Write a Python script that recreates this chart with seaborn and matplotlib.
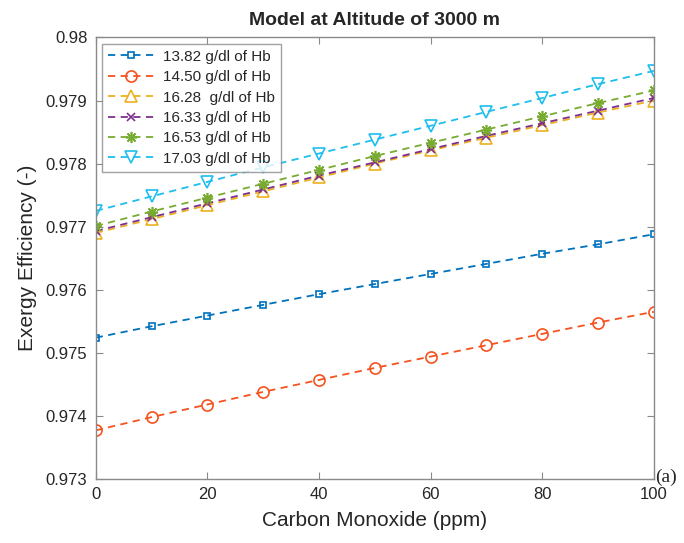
import numpy as np
import pandas as pd
import matplotlib
matplotlib.use('Agg')
import matplotlib.pyplot as plt
from matplotlib.ticker import FuncFormatter
import seaborn as sns

# Data
co_ppm = [0, 10, 20, 30, 40, 50, 60, 70, 80, 90, 100]
hb_1382 = [0.97524, 0.97542, 0.97559, 0.97576, 0.97593, 0.97609, 0.97625, 0.97641, 0.97657, 0.97672, 0.97688]
hb_1450 = [0.97377, 0.97398, 0.97418, 0.97438, 0.97457, 0.97476, 0.97494, 0.97512, 0.97530, 0.97548, 0.97565]
hb_1628 = [0.97690, 0.97712, 0.97734, 0.97756, 0.97778, 0.97800, 0.97821, 0.97841, 0.97861, 0.97881, 0.97900]
hb_1633 = [0.97693, 0.97715, 0.97737, 0.97759, 0.97781, 0.97802, 0.97823, 0.97844, 0.97864, 0.97884, 0.97904]
hb_1653 = [0.97701, 0.97724, 0.97746, 0.97768, 0.97790, 0.97812, 0.97833, 0.97854, 0.97875, 0.97896, 0.97916]
hb_1703 = [0.97725, 0.97748, 0.97771, 0.97794, 0.97816, 0.97838, 0.97860, 0.97882, 0.97904, 0.97926, 0.97947]

labels = ['13.82 g/dl of Hb', '14.50 g/dl of Hb', '16.28  g/dl of Hb',
          '16.33 g/dl of Hb', '16.53 g/dl of Hb', '17.03 g/dl of Hb']
series = [hb_1382, hb_1450, hb_1628, hb_1633, hb_1653, hb_1703]
colors = ['#0072BD', '#F5521E', '#EDB120', '#7E2F8E', '#77AC30', '#1EBEEE']
markers = ['s', 'o', '^', 'x', (8, 2, 0), 'v']
msizes = [5, 8, 8, 6, 8, 8]

sns.set_style('white')
plt.rcParams['font.family'] = ['Liberation Sans', 'DejaVu Sans']

fig = plt.figure(figsize=(6.84, 5.43), dpi=100)
ax = fig.add_axes([0.140, 0.118, 0.816, 0.813])

for vals, lab, c, m, ms in zip(series, labels, colors, markers, msizes):
    df = pd.DataFrame({'x': co_ppm, 'y': vals})
    sns.lineplot(data=df, x='x', y='y', ax=ax, label=lab, color=c,
                 marker=m, markersize=ms, markerfacecolor='none',
                 markeredgecolor=c, markeredgewidth=1.2,
                 linewidth=1.3, dashes=(4, 3))

ax.set_xlim(0, 100)
ax.set_ylim(0.973, 0.98)
ax.set_xticks([0, 20, 40, 60, 80, 100])
ax.set_yticks(np.arange(0.973, 0.98001, 0.001))
ax.yaxis.set_major_formatter(FuncFormatter(lambda v, p: f'{v:.3f}'.rstrip('0')))

for s in ax.spines.values():
    s.set_color('#8a8a8a')
    s.set_linewidth(1.0)
ax.tick_params(direction='in', length=5, width=0.8, color='#8a8a8a',
               labelsize=12, labelcolor='#262626', top=True, right=True,
               left=True, bottom=True, pad=6)

ax.set_xlabel('Carbon Monoxide (ppm)', fontsize=15, color='#262626', labelpad=6)
ax.set_ylabel('Exergy Efficiency (-)', fontsize=15, color='#262626', labelpad=6)
ax.set_title('Model at Altitude of 3000 m', fontsize=14, fontweight='bold', pad=9)

leg = ax.legend(loc='upper left', fontsize=11, frameon=True, fancybox=False,
                handlelength=3.0, borderaxespad=0.4, labelspacing=0.42,
                borderpad=0.4, handletextpad=0.6)
leg.get_frame().set_edgecolor('#8a8a8a')
leg.get_frame().set_linewidth(1.0)

fig.text(0.958, 0.12, '(a)', fontsize=14, family='Liberation Serif',
         ha='left', va='center')

fig.savefig('out.png', dpi=100)
